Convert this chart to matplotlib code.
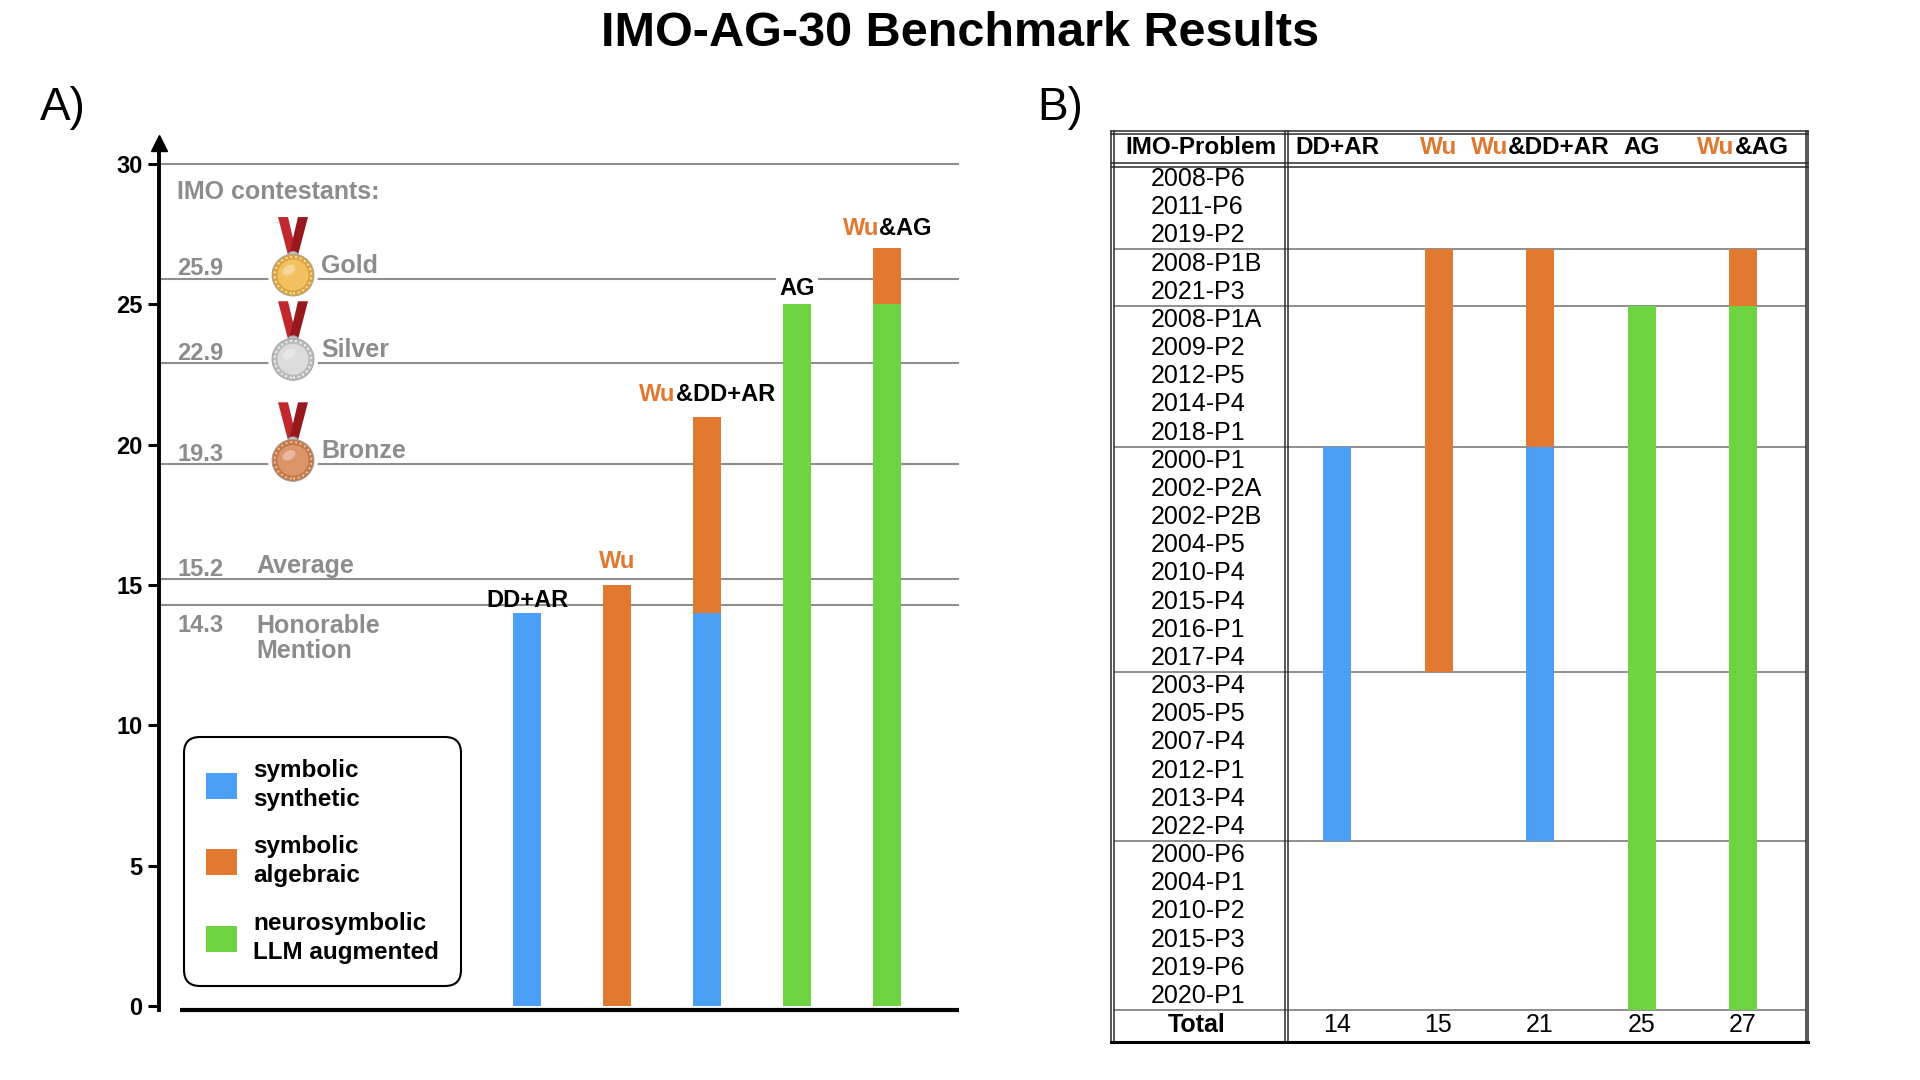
import numpy as np
import matplotlib
matplotlib.use("Agg")
import matplotlib.pyplot as plt
from matplotlib.patches import Patch, Circle, Polygon, Ellipse
from matplotlib.transforms import ScaledTranslation

plt.rcParams['font.family'] = ['Liberation Sans', 'DejaVu Sans']

# ------------------------------------------------------------------
# data
problem_groups = [
    ["2008-P6", "2011-P6", "2019-P2"],
    ["2008-P1B", "2021-P3"],
    ["2008-P1A", "2009-P2", "2012-P5", "2014-P4", "2018-P1"],
    ["2000-P1", "2002-P2A", "2002-P2B", "2004-P5", "2010-P4",
     "2015-P4", "2016-P1", "2017-P4"],
    ["2003-P4", "2005-P5", "2007-P4", "2012-P1", "2013-P4", "2022-P4"],
    ["2000-P6", "2004-P1", "2010-P2", "2015-P3", "2019-P6", "2020-P1"],
]
methods = ["DD+AR", "Wu", "Wu&DD+AR", "AG", "Wu&AG"]
# kind of solver that cracked each problem group (None = unsolved)
solved = {
    "DD+AR":    [None, None,  None,  "syn", "syn", None],
    "Wu":       [None, "alg", "alg", "alg", None,  None],
    "Wu&DD+AR": [None, "alg", "alg", "syn", "syn", None],
    "AG":       [None, None,  "neu", "neu", "neu", "neu"],
    "Wu&AG":    [None, "alg", "neu", "neu", "neu", "neu"],
}
stack_order = ["syn", "neu", "alg"]
legend_order = ["syn", "alg", "neu"]
cat_labels = {"syn": "symbolic\nsynthetic",
              "alg": "symbolic\nalgebraic",
              "neu": "neurosymbolic\nLLM augmented"}
imo_levels = [25.9, 22.9, 19.3, 15.2, 14.3]
imo_names = ["Gold", "Silver", "Bronze", "Average", "Honorable\nMention"]

# ------------------------------------------------------------------
BLUE, ORANGE, GREEN = "#4a9ff5", "#e07830", "#6ed341"
colors = {"syn": BLUE, "alg": ORANGE, "neu": GREEN}
GRAY = "#8c8c8c"
LINE = "#8e8e8e"

sizes = [len(g) for g in problem_groups]
starts = np.cumsum([0] + sizes[:-1])
problems = [p for g in problem_groups for p in g]
counts = {m: {c: sum(s for s, k in zip(sizes, solved[m]) if k == c)
              for c in stack_order} for m in methods}
totals = [sum(counts[m].values()) for m in methods]

fig = plt.figure(figsize=(19.2, 10.8), dpi=100)
W, H = 1920, 1080


def name_parts(m):
    if m.startswith("Wu"):
        parts = [("Wu", ORANGE)]
        if len(m) > 2:
            parts.append((m[2:], "black"))
        return parts
    return [(m, "black")]


def tone_text(ax, x, y, parts, va="baseline", **kw):
    r = fig.canvas.get_renderer()
    arts = [ax.text(x, y, s, color=c, ha="left", va=va, **kw) for s, c in parts]
    ws = [a.get_window_extent(r).width for a in arts]
    off = -sum(ws) / 2
    for a, w in zip(arts, ws):
        a.set_transform(ax.transData +
                        ScaledTranslation(off / fig.dpi, 0, fig.dpi_scale_trans))
        off += w


# ------------------------------------------------------------------
# panel A
Y0, PPU = 1006, 28.07        # pixel of y=0, pixels per point
XC, PPX = 527, 90            # pixel of first bar, pixels per bar slot
top_px, bot_px = 143, 1014
axA = fig.add_axes([159 / W, 1 - bot_px / H, 800 / W, (bot_px - top_px) / H])
axA.set_xlim((159 - XC) / PPX, (959 - XC) / PPX)
ylo, yhi = -(bot_px - Y0) / PPU, (Y0 - top_px) / PPU
axA.set_ylim(ylo, yhi)
axA.patch.set_visible(False)
for s in ["top", "right", "bottom"]:
    axA.spines[s].set_visible(False)
axA.spines["left"].set_linewidth(2.8)
axA.spines["left"].set_bounds(-0.15, yhi)
axA.set_xticks([])
axA.set_yticks(range(0, 31, 5))
axA.tick_params(axis="y", length=8, width=2.2, labelsize=17, pad=4)
for lbl in axA.get_yticklabels():
    lbl.set_fontweight("bold")
axA.plot([0], [1], marker="^", markersize=12, color="black",
         transform=axA.transAxes, clip_on=False)

x0, x1 = axA.get_xlim()
axA.hlines([30] + imo_levels, x0, x1, color=LINE, lw=1.5, zorder=1)
axA.plot([(180 - XC) / PPX, x1], [-0.125, -0.125], color="black", lw=3,
         solid_capstyle="butt", clip_on=False, zorder=5)

xs = np.arange(len(methods))
bottom = np.zeros(len(methods))
for c in stack_order:
    vals = np.array([counts[m][c] for m in methods], dtype=float)
    axA.bar(xs, vals, bottom=bottom, width=28 / PPX, color=colors[c],
            linewidth=0, zorder=3)
    bottom += vals

label_pad_px = [6.5, 16.5, 15.5, 9.5, 13.5]
for i, m in enumerate(methods):
    kw = dict(fontsize=17, fontweight="bold", zorder=4)
    if m == "AG":
        kw["bbox"] = dict(facecolor="white", edgecolor="none", pad=2)
    tone_text(axA, xs[i], totals[i] + label_pad_px[i] / PPU, name_parts(m), **kw)

# contestant levels
num_x = (177 - XC) / PPX
axA.text(num_x, 29.0, "IMO contestants:", color=GRAY, fontsize=18,
         fontweight="bold", va="center", ha="left")
name_x = [(321 - XC) / PPX] * 3 + [(256 - XC) / PPX] * 2
for lev, nm, nx in zip(imo_levels, imo_names, name_x):
    if "\n" in nm:
        axA.text(num_x, lev - 0.32, f"{lev}", color=GRAY, fontsize=17,
                 fontweight="bold", va="top", ha="left")
        axA.text(nx, lev - 0.32, nm, color=GRAY, fontsize=18,
                 fontweight="bold", va="top", ha="left", linespacing=1.1)
    else:
        axA.text(num_x, lev + 0.13, f"{lev}", color=GRAY, fontsize=17,
                 fontweight="bold", va="baseline", ha="left")
        axA.text(nx, lev + 0.22, nm, color=GRAY, fontsize=18,
                 fontweight="bold", va="baseline", ha="left")

leg = axA.legend(
    [Patch(facecolor=colors[c], edgecolor="none") for c in legend_order],
    [cat_labels[c] for c in legend_order],
    loc="upper left", bbox_to_anchor=(184 / W, 1 - 737 / H),
    bbox_transform=fig.transFigure, borderaxespad=0, frameon=True,
    fancybox=True, edgecolor="black", framealpha=1,
    prop=dict(weight="bold", size=17.5), handlelength=1.28, handleheight=1.28,
    handletextpad=0.66, labelspacing=1.0, borderpad=0.9)
for t in leg.get_texts():
    t.set_linespacing(1.34)
leg.get_frame().set_linewidth(1.5)
leg.get_frame().set_boxstyle("round", pad=0, rounding_size=0.65)

# ------------------------------------------------------------------
# decoration layer (pixels) for medals
deco = fig.add_axes([0, 0, 1, 1], zorder=5)
deco.set_xlim(0, W)
deco.set_ylim(0, H)
deco.axis("off")

medal_cols = [("#d9a443", "#f2c160", "#fbe3a0"),
              ("#b9b9b9", "#dcdcdc", "#f4f4f4"),
              ("#c27a4c", "#dc9568", "#f2c3a2")]
medal_x = (293 - XC) / PPX
for lev, (rim, face, dots) in zip(imo_levels[:3], medal_cols):
    cx, cy = axA.transData.transform((medal_x, lev + 0.14))
    deco.add_patch(Circle((cx, cy), 25, facecolor="white", edgecolor="none"))
    deco.add_patch(Polygon([(cx - 15, cy + 58), (cx - 5, cy + 58),
                            (cx + 4, cy + 20), (cx - 5, cy + 20)],
                           facecolor="#c0282d", edgecolor="none"))
    deco.add_patch(Polygon([(cx + 5, cy + 58), (cx + 15, cy + 58),
                            (cx + 5, cy + 20), (cx - 4, cy + 20)],
                           facecolor="#97191e", edgecolor="none"))
    deco.add_patch(Ellipse((cx, cy + 21), 9, 5, facecolor="#c8c8c8",
                           edgecolor="#999999", lw=0.6))
    deco.add_patch(Circle((cx, cy), 21, facecolor=rim, edgecolor="#a0a0a0", lw=0.6))
    deco.add_patch(Circle((cx, cy), 18.3, facecolor="none", edgecolor=dots,
                          lw=1.4, linestyle=(0, (1, 1.5))))
    deco.add_patch(Circle((cx, cy), 15.5, facecolor=face, edgecolor="none"))
    deco.add_patch(Ellipse((cx - 4, cy + 5), 14, 9, angle=30,
                           facecolor="white", alpha=0.35, edgecolor="none"))

# ------------------------------------------------------------------
# panel B table
RP = 28.17      # row pitch (px)
CP = 101.5      # column pitch (px)
axT = fig.add_axes([1111 / W, 1 - 1042 / H, 697 / W, 911 / H])
xl, xr = (1111 - 1337) / CP, (1808 - 1337) / CP
yt, yb = -(165 - 131) / RP, len(problems) + (1042 - 1010) / RP
axT.set_xlim(xl, xr)
axT.set_ylim(yb, yt)
axT.axis("off")

ends = np.cumsum(sizes)
axT.hlines(ends, xl + 0.03, xr - 0.02, color=LINE, lw=1.4, zorder=2)

fk = dict(color="#2a2a2a", lw=1.1, clip_on=False, zorder=6)
for yy in [yt, yt + 2.6 / RP, -0.06, 0.06]:
    axT.plot([xl, xr], [yy, yy], **fk)
for xx in [xl, xl + 3.3 / CP, (1285 - 1337) / CP, (1287.7 - 1337) / CP,
           xr - 2.2 / CP, xr]:
    axT.plot([xx, xx], [yt, yb], **fk)
axT.plot([xl, xr], [yb, yb], color="black", lw=2.2, clip_on=False, zorder=6)

for j, m in enumerate(methods):
    for g, k in enumerate(solved[m]):
        if k:
            axT.bar(j, sizes[g], bottom=starts[g], width=28 / CP,
                    color=colors[k], linewidth=0, zorder=3)

row_x = (1151 - 1337) / CP
for i, p in enumerate(problems):
    axT.text(row_x, i + 0.5, p, fontsize=18, ha="left", va="center")

head_y = (148 - 165) / RP
axT.text((1201 - 1337) / CP, head_y, "IMO-Problem", fontsize=17.5,
         fontweight="bold", ha="center", va="center")
for j, m in enumerate(methods):
    tone_text(axT, j, head_y, name_parts(m), va="center",
              fontsize=17.5, fontweight="bold")

tot_y = len(problems) + (1025 - 1010) / RP
axT.text((1197 - 1337) / CP, tot_y, "Total", fontsize=18, fontweight="bold",
         ha="center", va="center")
for j, t in enumerate(totals):
    axT.text(j, tot_y, str(t), fontsize=18, ha="center", va="center")

# ------------------------------------------------------------------
fig.text(0.5, 1 - 33 / H, "IMO-AG-30 Benchmark Results", fontsize=35,
         fontweight="bold", ha="center", va="center")
fig.text(40 / W, 1 - 108 / H, "A)", fontsize=33, ha="left", va="center")
fig.text(1037 / W, 1 - 108 / H, "B)", fontsize=33, ha="left", va="center")

fig.savefig("out.png", dpi=100, facecolor="white")
